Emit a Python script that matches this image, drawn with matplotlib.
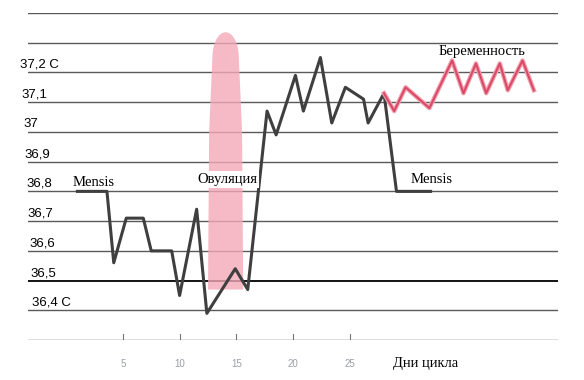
import numpy as np
import matplotlib
matplotlib.use("Agg")
import matplotlib.pyplot as plt
import matplotlib.patches as patches

# basal temperature chart
days_cycle = [1.0, 3.6, 4.2, 5.3, 6.8, 7.5, 9.3, 10.0, 11.5, 12.4, 14.9, 16.0,
              17.7, 18.5, 20.2, 20.9, 22.4, 23.4, 24.6, 26.2, 26.6, 28.0, 29.1, 32.1]
temp_cycle = [36.80, 36.80, 36.56, 36.71, 36.71, 36.60, 36.60, 36.45, 36.74, 36.39, 36.54, 36.47,
              37.07, 36.99, 37.19, 37.07, 37.25, 37.03, 37.15, 37.11, 37.03, 37.13, 36.80, 36.80]

days_preg = [28.0, 28.9, 29.9, 32.0, 34.0, 35.0, 36.1, 37.0, 38.2, 38.9, 40.2, 41.2]
temp_preg = [37.13, 37.07, 37.15, 37.08, 37.24, 37.13, 37.23, 37.13, 37.23, 37.14, 37.24, 37.14]

grid_levels = [36.3, 36.4, 36.5, 36.6, 36.7, 36.8, 36.9, 37.0, 37.1, 37.2, 37.3, 37.4]
ylabel_values = [36.4, 36.5, 36.6, 36.7, 36.8, 36.9, 37.0, 37.1, 37.2]
ylabel_texts = ["36,4 C", "36,5", "36,6", "36,7", "36,8", "36,9", "37", "37,1", "37,2 C"]
xtick_days = [5, 10, 15, 20, 25]

SANS = "Liberation Sans"
SERIF = "Liberation Serif"

fig = plt.figure(figsize=(5.84, 3.8), dpi=100)
ax = fig.add_axes([0.048, 0.105, 0.907, 0.861])
ax.set_xlim(-3.35, 43.3)
ax.set_ylim(36.3, 37.4)
for s in ax.spines.values():
    s.set_visible(False)
ax.set_yticks([])
ax.set_xticks([])

# horizontal rules
for lev in grid_levels:
    if abs(lev - 36.5) < 1e-6:
        ax.axhline(lev, color="black", lw=1.3, zorder=1)
    else:
        ax.axhline(lev, color="#5a5a5a", lw=1.0, zorder=1)

# x ticks pointing up from the base line
for d in xtick_days:
    ax.plot([d, d], [36.3, 36.32], color="#777777", lw=0.8, zorder=1)
    ax.text(d, 36.22, str(d), ha="center", va="center", fontsize=7,
            color="#9aa0a8", family=SANS)
ax.text(31.7, 36.22, "Дни цикла", ha="center", va="center", fontsize=10.5, family=SERIF)

# y labels sit a bit above their rule, drifting left as they go up
x_shift = np.linspace(-3.0, -4.05, len(ylabel_values))
for v, t, xs in zip(ylabel_values, ylabel_texts, x_shift):
    ax.text(xs, v + 0.025, t, ha="left", va="center", fontsize=9.5,
            family=SANS, clip_on=False)

# ovulation band with rounded top
xl, xr, yb, yt = 12.5, 15.6, 36.47, 37.25
cx = (xl + xr) / 2
th = np.linspace(np.pi, 0, 40)
arc_x = cx + (xr - xl) / 2 * 0.75 * np.cos(th)
arc_y = yt + 0.085 * np.sin(th)
poly_x = np.concatenate([[xl, xl + 0.1], arc_x, [xr - 0.1, xr]])
poly_y = np.concatenate([[yb, 37.0], arc_y, [37.0, yb]])
band = patches.Polygon(np.column_stack([poly_x, poly_y]), closed=True,
                       facecolor="#f3a9b8", edgecolor="none", alpha=0.8, zorder=2)
ax.add_patch(band)

ax.plot(days_cycle, temp_cycle, color="#3f3f3f", lw=2.2, zorder=4)
ax.plot(days_preg, temp_preg, color="#f2a0b0", lw=3.2, zorder=5)
ax.plot(days_preg, temp_preg, color="#d94a66", lw=1.5, zorder=6)

ax.text(0.6, 36.83, "Mensis", fontsize=10.5, family=SERIF, ha="left", va="center")
ax.text(30.3, 36.84, "Mensis", fontsize=10.5, family=SERIF, ha="left", va="center")
ax.text(14.2, 36.84, "Овуляция", fontsize=10.5, family=SERIF, ha="center", va="center", zorder=7,
        bbox=dict(facecolor="white", edgecolor="none", pad=1.5))
ax.text(32.8, 37.27, "Беременность", fontsize=10.5, family=SERIF, ha="left", va="center")

fig.savefig("out.png", dpi=100, facecolor="white")
